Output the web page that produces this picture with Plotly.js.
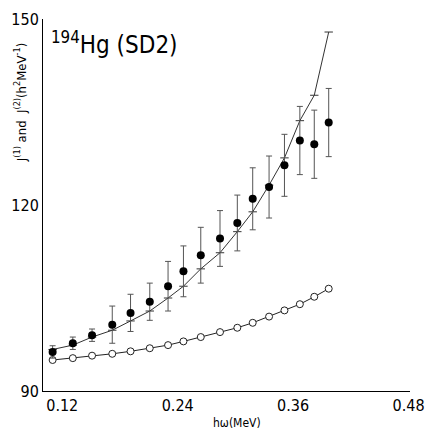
<!DOCTYPE html>
<html>
<head>
<meta charset="utf-8">
<script src="https://cdn.plot.ly/plotly-3.0.1.min.js"></script>
<style>html,body{margin:0;padding:0;background:#fff;}#chart{width:426px;height:430px;}</style>
</head>
<body>
<div id="chart"></div>
<script>
var hw = [0.110, 0.131, 0.151, 0.172, 0.191, 0.211, 0.230, 0.246, 0.264, 0.284, 0.302, 0.318, 0.335, 0.351, 0.367, 0.382, 0.397];
var j2Exp = [96.3, 97.7, 99.0, 100.7, 102.6, 104.4, 106.9, 109.3, 111.9, 114.6, 117.1, 121.0, 122.9, 126.4, 130.4, 129.8, 133.3];
var j2Err = [1.0, 1.0, 1.0, 3.0, 3.0, 3.0, 4.0, 4.1, 4.5, 4.5, 4.5, 5.0, 5.0, 5.0, 5.5, 5.5, 5.5];
var j2Calc = [96.7, 97.4, 98.7, 99.8, 101.3, 102.9, 105.0, 106.9, 109.7, 112.3, 115.7, 118.9, 123.2, 127.6, 133.6, 137.7, 147.9];
var j1Calc = [95.0, 95.3, 95.7, 96.0, 96.4, 96.9, 97.4, 98.0, 98.7, 99.5, 100.2, 101.0, 102.0, 103.0, 104.0, 105.2, 106.5];
var xTicks = [0.12, 0.24, 0.36, 0.48];
var yTicks = [90, 120, 150];

var narrow = "'Liberation Sans Narrow', 'Arial Narrow', 'DejaVu Sans Condensed', Arial, sans-serif";

var traces = [
  {x: hw, y: j1Calc, mode: 'lines+markers', type: 'scatter',
   line: {color: '#222', width: 1},
   marker: {symbol: 'circle', size: 7, color: '#fff', line: {color: '#222', width: 1}}},
  {x: hw, y: j2Calc, mode: 'lines+markers', type: 'scatter',
   line: {color: '#333', width: 1},
   marker: {symbol: 'line-ew-open', size: 6, color: '#333', line: {color: '#333', width: 1}}},
  {x: hw, y: j2Exp, mode: 'markers', type: 'scatter',
   marker: {symbol: 'circle', size: 8, color: '#000'},
   error_y: {type: 'data', array: j2Err, visible: true, color: '#555', thickness: 1, width: 3}}
];

var layout = {
  width: 426, height: 430,
  margin: {l: 43, r: 16, t: 19, b: 39},
  paper_bgcolor: '#fff', plot_bgcolor: '#fff',
  showlegend: false,
  font: {family: narrow, size: 16, color: '#000'},
  xaxis: {range: [0.1, 0.4815], tickvals: xTicks, ticktext: xTicks.map(function(v){return v.toFixed(2);}),
    showgrid: false, zeroline: false, showline: true, linecolor: '#000', linewidth: 1,
    ticks: '', tickfont: {family: narrow, size: 16, color: '#000'}},
  yaxis: {range: [90, 150], tickvals: yTicks, showgrid: false, zeroline: false,
    showline: true, linecolor: '#000', linewidth: 1, ticks: '',
    tickfont: {family: narrow, size: 16, color: '#000'}},
  annotations: [
    {xref: 'paper', yref: 'paper', x: 0.016, y: 0.985, xanchor: 'left', yanchor: 'top',
     text: '<sup>194</sup>Hg (SD2)', showarrow: false, font: {family: narrow, size: 24, color: '#000'}},
    {xref: 'paper', yref: 'paper', x: -0.062, y: 0.777, xanchor: 'center', yanchor: 'middle', textangle: -90,
     text: 'J<sup>(1)</sup> and  J<sup>(2)</sup>(h<sup>2</sup>MeV<sup>-1</sup>)', showarrow: false,
     font: {family: narrow, size: 13, color: '#000'}},
    {xref: 'paper', yref: 'paper', x: 0.528, y: -0.085, xanchor: 'center', yanchor: 'middle',
     text: 'hω(MeV)', showarrow: false, font: {family: narrow, size: 12, color: '#000'}}
  ]
};

Plotly.newPlot('chart', traces, layout, {displayModeBar: false, staticPlot: true});
</script>
</body>
</html>
